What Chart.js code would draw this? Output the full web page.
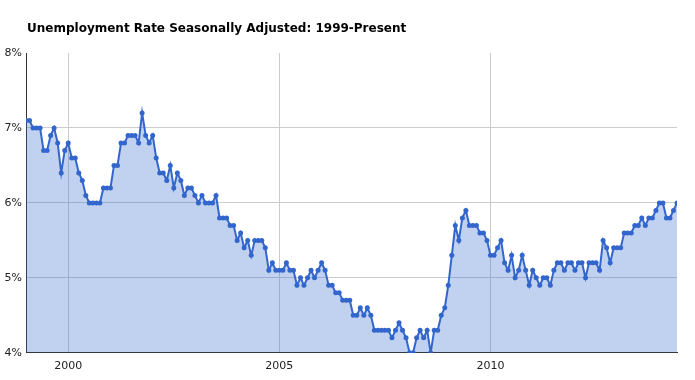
<!DOCTYPE html>
<html>
<head>
<meta charset="utf-8">
<script src="https://cdn.jsdelivr.net/npm/chart.js@4/dist/chart.umd.min.js"></script>
<style>
  html, body { margin: 0; padding: 0; background: #fff; }
  #wrap { position: relative; width: 695px; height: 380px; }
  #title { position: absolute; left: 27px; top: 21px; font: bold 12px "DejaVu Sans", Verdana, sans-serif; color: #000; line-height: 15px; white-space: nowrap; }
  canvas { position: absolute; left: 0; top: 0; }
</style>
</head>
<body>
<div id="wrap">
  <canvas id="c" width="695" height="380"></canvas>
  <div id="title">Unemployment Rate Seasonally Adjusted: 1999-Present</div>
</div>
<script>
const startYear = 1999;
const tickYears = [2000, 2005, 2010];
const yTicks = [4, 5, 6, 7, 8];
// monthly values, Jan 1999 - Jun 2014
const rate1999 = [7.1, 7.1, 7.0, 7.0, 7.0, 6.7, 6.7, 6.9, 7.0, 6.8, 6.4, 6.7];
const rate2000 = [6.8, 6.6, 6.6, 6.4, 6.3, 6.1, 6.0, 6.0, 6.0, 6.0, 6.2, 6.2];
const rate2001 = [6.2, 6.5, 6.5, 6.8, 6.8, 6.9, 6.9, 6.9, 6.8, 7.2, 6.9, 6.8];
const rate2002 = [6.9, 6.6, 6.4, 6.4, 6.3, 6.5, 6.2, 6.4, 6.3, 6.1, 6.2, 6.2];
const rate2003 = [6.1, 6.0, 6.1, 6.0, 6.0, 6.0, 6.1, 5.8, 5.8, 5.8, 5.7, 5.7];
const rate2004 = [5.5, 5.6, 5.4, 5.5, 5.3, 5.5, 5.5, 5.5, 5.4, 5.1, 5.2, 5.1];
const rate2005 = [5.1, 5.1, 5.2, 5.1, 5.1, 4.9, 5.0, 4.9, 5.0, 5.1, 5.0, 5.1];
const rate2006 = [5.2, 5.1, 4.9, 4.9, 4.8, 4.8, 4.7, 4.7, 4.7, 4.5, 4.5, 4.6];
const rate2007 = [4.5, 4.6, 4.5, 4.3, 4.3, 4.3, 4.3, 4.3, 4.2, 4.3, 4.4, 4.3];
const rate2008 = [4.2, 4.0, 4.0, 4.2, 4.3, 4.2, 4.3, 4.0, 4.3, 4.3, 4.5, 4.6];
const rate2009 = [4.9, 5.3, 5.7, 5.5, 5.8, 5.9, 5.7, 5.7, 5.7, 5.6, 5.6, 5.5];
const rate2010 = [5.3, 5.3, 5.4, 5.5, 5.2, 5.1, 5.3, 5.0, 5.1, 5.3, 5.1, 4.9];
const rate2011 = [5.1, 5.0, 4.9, 5.0, 5.0, 4.9, 5.1, 5.2, 5.2, 5.1, 5.2, 5.2];
const rate2012 = [5.1, 5.2, 5.2, 5.0, 5.2, 5.2, 5.2, 5.1, 5.5, 5.4, 5.2, 5.4];
const rate2013 = [5.4, 5.4, 5.6, 5.6, 5.6, 5.7, 5.7, 5.8, 5.7, 5.8, 5.8, 5.9];
const rate2014 = [6.0, 6.0, 5.8, 5.8, 5.9, 6.0];

const rates = [].concat(rate1999, rate2000, rate2001, rate2002, rate2003, rate2004, rate2005,
  rate2006, rate2007, rate2008, rate2009, rate2010, rate2011, rate2012, rate2013, rate2014);
const points = rates.map((v, i) => ({ x: i, y: v }));

Chart.defaults.font.family = '"DejaVu Sans", Verdana, sans-serif';
Chart.defaults.font.size = 11;
Chart.defaults.color = '#222';

new Chart(document.getElementById('c'), {
  type: 'line',
  data: {
    datasets: [{
      data: points,
      borderColor: '#3366cc',
      backgroundColor: 'rgba(51,102,204,0.3)',
      pointBackgroundColor: '#3366cc',
      pointBorderColor: '#3366cc',
      pointRadius: 2.5,
      pointBorderWidth: 0,
      borderWidth: 2,
      fill: 'start',
      tension: 0
    }]
  },
  options: {
    responsive: false,
    animation: false,
    events: [],
    layout: { padding: { top: 53, left: 0, right: 18, bottom: 0 } },
    plugins: { legend: { display: false }, tooltip: { enabled: false }, title: { display: false } },
    scales: {
      x: {
        type: 'linear',
        min: 0,
        max: rates.length - 1,
        afterBuildTicks: s => { s.ticks = tickYears.map(y => ({ value: (y - startYear) * 12 })); },
        ticks: {
          padding: 7,
          maxRotation: 0,
          callback: v => String(startYear + v / 12)
        },
        grid: { color: '#cccccc', drawTicks: false, lineWidth: 1 },
        border: { display: true, color: '#333333', width: 1 }
      },
      y: {
        min: 4,
        max: 8,
        afterBuildTicks: s => { s.ticks = yTicks.map(v => ({ value: v })); },
        afterFit: s => { s.width = 26; },
        ticks: {
          padding: 4,
          callback: v => v + '%'
        },
        grid: {
          drawTicks: false,
          lineWidth: 1,
          color: c => (c.tick && c.tick.value === 8) ? 'rgba(0,0,0,0)' : '#cccccc'
        },
        border: { display: true, color: '#333333', width: 1 }
      }
    }
  }
});
</script>
</body>
</html>
